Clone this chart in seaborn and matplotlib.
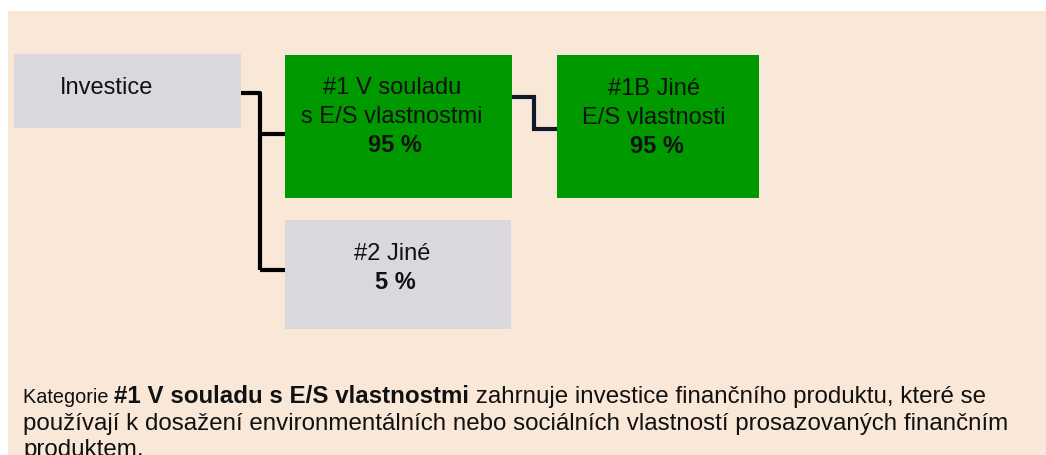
import matplotlib
matplotlib.use("Agg")
import matplotlib.pyplot as plt
import matplotlib.patches as patches
import seaborn as sns

# obsah diagramu
box_titles = ["Investice", "#1 V souladu\ns E/S vlastnostmi", "#1B Jiné\nE/S vlastnosti", "#2 Jiné"]
box_shares = [None, 95, 95, 5]
box_kinds = ["grey", "green", "green", "grey"]

note_lead = "Kategorie "
note_bold = "#1 V souladu s E/S vlastnostmi"
note_rest = [" zahrnuje investice finančního produktu, které se",
             "používají k dosažení environmentálních nebo sociálních vlastností prosazovaných finančním",
             "produktem."]

# rozlozeni v pixelech (x0, y0, x1, y1) a stred textu
box_pos = [(14, 55, 241, 129), (285, 56, 512, 199), (557, 56, 759, 199), (285, 221, 511, 330)]
text_pos = [(60, 88), (392, 88), (654, 89), (392, 254)]
colors = {"grey": "#dbd8dd", "green": "#009900"}
bg = "#f9e7d7"

sns.set_theme(style="white")
plt.rcParams["font.family"] = ["Liberation Sans", "DejaVu Sans"]

fig = plt.figure(figsize=(10.46, 4.56), dpi=100)
ax = fig.add_axes([0, 0, 1, 1])
ax.set_xlim(0, 1046)
ax.set_ylim(456, 0)
ax.axis("off")

ax.add_patch(patches.Rectangle((8, 12), 1046, 460, color=bg, lw=0))

box_fs = 17
for i, (x0, y0, x1, y1) in enumerate(box_pos):
    ax.add_patch(patches.Rectangle((x0, y0), x1 - x0, y1 - y0, color=colors[box_kinds[i]], lw=0))
    tx, ty = text_pos[i]
    lines = box_titles[i].split("\n")
    if i == 0:
        ax.text(tx, ty, lines[0], fontsize=box_fs, ha="left", va="center", color="#111111")
        continue
    step = 29
    for k, ln in enumerate(lines):
        ax.text(tx, ty + k * step, ln, fontsize=box_fs, ha="center", va="center", color="#111111")
    ax.text(tx + 3, ty + len(lines) * step, f"{box_shares[i]} %", fontsize=box_fs,
            ha="center", va="center", weight="bold", color="#111111")

# spojnice
lw = 3.0
vx = 260
ax.plot([241, vx, vx], [94, 94, 271], color="black", lw=lw, solid_capstyle="butt")
ax.plot([vx, 285], [135, 135], color="black", lw=lw, solid_capstyle="butt")
ax.plot([vx, 285], [271, 271], color="black", lw=lw, solid_capstyle="butt")
ax.plot([512, 534, 534, 557], [98, 98, 130, 130], color="#0f1a2a", lw=lw,
        solid_capstyle="butt", solid_joinstyle="miter")

# poznamka dole
fs = 17.4
base = [403, 430, 456]
t1 = ax.text(23, base[0], note_lead, fontsize=14.3, va="baseline", ha="left", color="#111111")
fig.canvas.draw()
inv = ax.transData.inverted()
bb = t1.get_window_extent()
x_next = inv.transform((bb.x1, 0))[0]
t2 = ax.text(x_next, base[0], note_bold, fontsize=fs, weight="bold", va="baseline", ha="left", color="#111111")
fig.canvas.draw()
bb = t2.get_window_extent()
x_next = inv.transform((bb.x1, 0))[0]
ax.text(x_next, base[0], note_rest[0], fontsize=fs, va="baseline", ha="left", color="#111111")
ax.text(23, base[1], note_rest[1], fontsize=fs, va="baseline", ha="left", color="#111111")
ax.text(23, base[2], note_rest[2], fontsize=fs, va="baseline", ha="left", color="#111111")

fig.savefig("out.png", dpi=100, facecolor="white")
